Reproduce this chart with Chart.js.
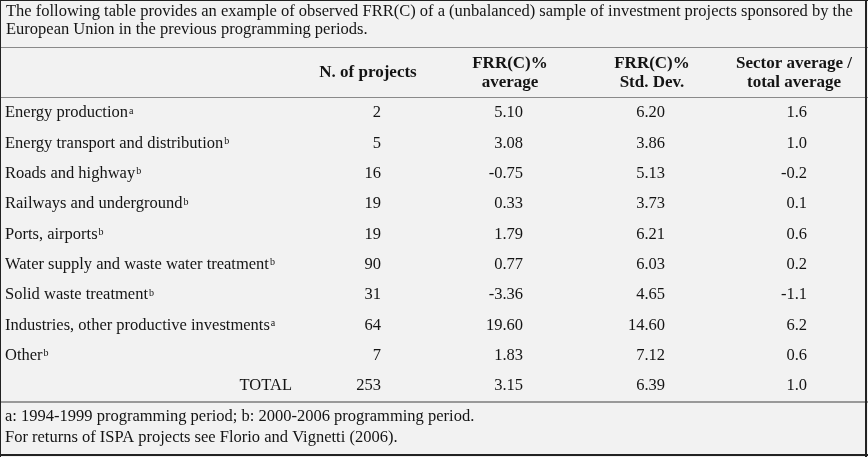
<!DOCTYPE html>
<html>
<head>
<meta charset="utf-8">
<script src="https://cdn.jsdelivr.net/npm/chart.js@4/dist/chart.umd.min.js"></script>
<style>
  html, body { margin: 0; padding: 0; background: #f2f2f2; }
  #wrap { width: 868px; height: 457px; position: relative; }
</style>
</head>
<body>
<div id="wrap"><canvas id="chart-frr"></canvas></div>
<script>
// --- data ---
const captionLines = [
  'The following table provides an example of observed FRR(C) of a (unbalanced) sample of investment projects sponsored by the',
  'European Union in the previous programming periods.'
];
const footerLines = [
  'a: 1994-1999 programming period; b: 2000-2006 programming period.',
  'For returns of ISPA projects see Florio and Vignetti (2006).'
];
const columnHeaders = [
  ['N. of projects'],
  ['FRR(C)%', 'average'],
  ['FRR(C)%', 'Std. Dev.'],
  ['Sector average /', 'total average']
];
const sectors = [
  'Energy production', 'Energy transport and distribution', 'Roads and highway',
  'Railways and underground', 'Ports, airports', 'Water supply and waste water treatment',
  'Solid waste treatment', 'Industries, other productive investments', 'Other', 'TOTAL'
];
const periodNotes = ['a', 'b', 'b', 'b', 'b', 'b', 'b', 'a', 'b', ''];
const nProjects = [2, 5, 16, 19, 19, 90, 31, 64, 7, 253];
const frrAverage = [5.10, 3.08, -0.75, 0.33, 1.79, 0.77, -3.36, 19.60, 1.83, 3.15];
const frrStdDev = [6.20, 3.86, 5.13, 3.73, 6.21, 6.03, 4.65, 14.60, 7.12, 6.39];
const sectorRatio = [1.6, 1.0, -0.2, 0.1, 0.6, 0.2, -1.1, 6.2, 0.6, 1.0];

const columnValues = [nProjects, frrAverage, frrStdDev, sectorRatio];
const columnDecimals = [0, 2, 2, 1];

const SERIF = '"Liberation Serif", "DejaVu Serif", serif';
const FONT = '16.5px ' + SERIF;
const TEXT = '#141414';

// one dataset per column, one point per row; the plugin writes the value at each point
const datasets = columnValues.map((vals, c) => ({
  label: columnHeaders[c].join(' '),
  data: vals.map((v, r) => ({ x: c, y: r, v: v })),
  pointRadius: 0,
  pointHoverRadius: 0
}));

const tablePlugin = {
  id: 'tablePlugin',
  beforeDraw(chart) {
    const { ctx, width, height } = chart;
    ctx.save();
    ctx.fillStyle = '#f2f2f2';
    ctx.fillRect(0, 0, width, height);
    ctx.restore();
  },
  afterDatasetsDraw(chart) {
    const { ctx, chartArea, width, height } = chart;
    const xs = chart.scales.x, ys = chart.scales.y;
    ctx.save();
    ctx.fillStyle = TEXT;
    ctx.textBaseline = 'middle';

    // caption
    ctx.font = FONT;
    ctx.textAlign = 'left';
    captionLines.forEach((t, i) => ctx.fillText(t, 6, 12 + i * 18));

    // rules
    ctx.strokeStyle = '#8a8a8a';
    ctx.lineWidth = 1;
    ctx.beginPath();
    ctx.moveTo(0, 47.5); ctx.lineTo(width, 47.5);
    ctx.moveTo(0, chartArea.top - 0.5); ctx.lineTo(width, chartArea.top - 0.5);
    ctx.stroke();
    ctx.strokeStyle = '#999999';
    ctx.lineWidth = 2;
    ctx.beginPath();
    ctx.moveTo(0, chartArea.bottom + 1); ctx.lineTo(width, chartArea.bottom + 1);
    ctx.stroke();

    // column headers
    ctx.font = 'bold 17px ' + SERIF;
    ctx.textAlign = 'center';
    columnHeaders.forEach((lines, c) => {
      const x = xs.getPixelForValue(c);
      const mid = 73;
      lines.forEach((t, i) => {
        ctx.fillText(t, x, mid + (i - (lines.length - 1) / 2) * 19);
      });
    });

    // row labels
    sectors.forEach((s, r) => {
      const y = ys.getPixelForValue(r);
      ctx.font = FONT;
      if (s === 'TOTAL') {
        ctx.textAlign = 'right';
        ctx.fillText(s, 292, y);
        return;
      }
      ctx.textAlign = 'left';
      ctx.fillText(s, 5, y);
      const w = ctx.measureText(s).width;
      ctx.font = '10px ' + SERIF;
      ctx.fillText(periodNotes[r], 5 + w + 1, y - 2);
    });

    // cell values
    ctx.font = FONT;
    ctx.textAlign = 'right';
    chart.data.datasets.forEach((ds, c) => {
      const meta = chart.getDatasetMeta(c);
      meta.data.forEach((pt, r) => {
        const v = ds.data[r].v;
        ctx.fillText(v.toFixed(columnDecimals[c]), pt.x + 13, pt.y);
      });
    });

    // footer
    ctx.font = FONT;
    ctx.textAlign = 'left';
    footerLines.forEach((t, i) => ctx.fillText(t, 5, 417 + i * 21));

    // frame
    ctx.strokeStyle = '#222';
    ctx.lineWidth = 1;
    ctx.beginPath();
    ctx.moveTo(0.5, 0); ctx.lineTo(0.5, height);
    ctx.moveTo(0, 0.5); ctx.lineTo(width, 0.5);
    ctx.stroke();
    ctx.lineWidth = 2;
    ctx.beginPath();
    ctx.moveTo(width - 2, 0); ctx.lineTo(width - 2, height);
    ctx.moveTo(0, height - 2); ctx.lineTo(width, height - 2);
    ctx.stroke();
    ctx.restore();
  }
};

new Chart(document.getElementById('chart-frr'), {
  type: 'scatter',
  data: { datasets: datasets },
  options: {
    responsive: true,
    maintainAspectRatio: false,
    animation: false,
    layout: { padding: { left: 297, right: 3, top: 98, bottom: 56 } },
    plugins: { legend: { display: false }, tooltip: { enabled: false } },
    scales: {
      x: { type: 'linear', min: -0.5, max: 3.5, display: false },
      y: { type: 'linear', min: -0.5, max: 9.5, reverse: true, display: false }
    }
  },
  plugins: [tablePlugin]
});
</script>
</body>
</html>
